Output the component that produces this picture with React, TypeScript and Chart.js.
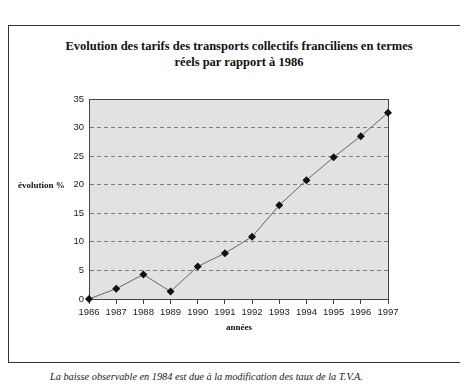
import React, { useEffect, useRef } from "react";
import { Chart, registerables } from "chart.js";

Chart.register(...registerables);

const years = ["1986", "1987", "1988", "1989", "1990", "1991", "1992", "1993", "1994", "1995", "1996", "1997"];
const evolution = [0, 1.8, 4.3, 1.3, 5.7, 8.0, 10.9, 16.4, 20.8, 24.8, 28.5, 32.6];
const yMin = 0;
const yMax = 35;
const yStep = 5;

const titleLines = ["Evolution des tarifs des transports collectifs franciliens en termes", "réels par rapport à 1986"];
const yLabel = "évolution %";
const xLabel = "années";
const caption = "La baisse observable en 1984 est due à la modification des taux de la T.V.A.";

const tickFont = "'Liberation Sans', Arial, sans-serif";

const plotFrame = {
  id: "plotFrame",
  beforeDraw(chart: any) {
    const { ctx, chartArea } = chart;
    ctx.save();
    ctx.fillStyle = "#e2e2e2";
    ctx.fillRect(chartArea.left, chartArea.top, chartArea.right - chartArea.left, chartArea.bottom - chartArea.top);
    ctx.restore();
  },
  beforeDatasetsDraw(chart: any) {
    const { ctx, chartArea } = chart;
    ctx.save();
    ctx.strokeStyle = "#444";
    ctx.lineWidth = 1;
    ctx.strokeRect(chartArea.left + 0.5, chartArea.top + 0.5, chartArea.right - chartArea.left, chartArea.bottom - chartArea.top);
    ctx.restore();
  },
};

export default function App() {
  const ref = useRef<HTMLCanvasElement>(null);
  useEffect(() => {
    if (!ref.current) return;
    const chart = new Chart(ref.current, {
      type: "line",
      data: {
        labels: years,
        datasets: [
          {
            data: evolution,
            borderColor: "#666",
            borderWidth: 1,
            pointStyle: "rectRot",
            pointRadius: 4,
            pointBackgroundColor: "#111",
            pointBorderColor: "#111",
            pointBorderWidth: 0,
            clip: false,
            tension: 0,
          },
        ],
      },
      options: {
        animation: false,
        responsive: false,
        devicePixelRatio: 1,
        layout: { padding: { left: 50, right: 80, top: 75, bottom: 17 } },
        plugins: { legend: { display: false }, title: { display: false }, tooltip: { enabled: false } },
        scales: {
          x: {
            type: "category",
            offset: false,
            grid: { display: true, drawOnChartArea: false, drawTicks: true, tickLength: 5, color: "#444" },
            border: { display: true, color: "#444" },
            ticks: { color: "#222", font: { family: tickFont, size: 9.5 }, padding: 3, maxRotation: 0, autoSkip: false },
            afterFit: (s: any) => { s.height = 45; },
          },
          y: {
            min: yMin,
            max: yMax,
            ticks: { stepSize: yStep, color: "#222", font: { family: tickFont, size: 9.5 }, padding: 5 },
            grid: { drawTicks: false, color: "#666", lineWidth: 0.8 },
            border: { display: true, color: "#444", dash: [4, 3] },
            afterFit: (s: any) => { s.width = 30; },
          },
        },
      },
      plugins: [plotFrame],
    });
    return () => chart.destroy();
  }, []);

  const serif = "'Liberation Serif', 'Times New Roman', serif";
  return (
    <div style={{ position: "relative", width: 468, height: 389, margin: -8, overflow: "hidden", background: "#fff" }}>
      <div style={{ position: "absolute", left: 8, top: 25, width: 470, height: 338, borderTop: "1px solid #333", borderLeft: "1px solid #333", borderBottom: "1px solid #333", boxSizing: "border-box" }} />
      <div style={{ position: "absolute", left: 9, top: 38, width: 460, textAlign: "center", fontFamily: serif, fontWeight: "bold", fontSize: 12.5, lineHeight: "16px", color: "#111" }}>
        {titleLines[0]}
        <br />
        {titleLines[1]}
      </div>
      <canvas ref={ref} width={459} height={337} style={{ position: "absolute", left: 9, top: 24, width: 459, height: 337 }} />
      <div style={{ position: "absolute", left: 18, top: 180, fontFamily: serif, fontWeight: "bold", fontSize: 9, color: "#111" }}>{yLabel}</div>
      <div style={{ position: "absolute", left: 89, width: 300, top: 322, textAlign: "center", fontFamily: serif, fontWeight: "bold", fontSize: 9, color: "#111" }}>{xLabel}</div>
      <div style={{ position: "absolute", left: 50, top: 371, fontFamily: serif, fontStyle: "italic", fontSize: 10.3, color: "#222", whiteSpace: "nowrap" }}>{caption}</div>
    </div>
  );
}
